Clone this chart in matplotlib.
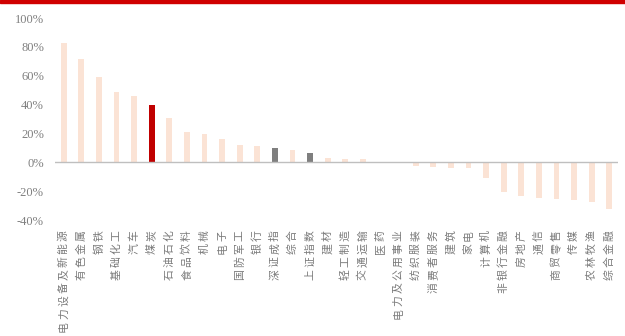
import matplotlib.pyplot as plt
from matplotlib.patches import Rectangle
import matplotlib.transforms as mtransforms

# 行业涨跌幅（%）
industries = [
    "电力设备及新能源", "有色金属", "钢铁", "基础化工", "汽车", "煤炭",
    "石油石化", "食品饮料", "机械", "电子", "国防军工", "银行",
    "深证成指", "综合", "上证指数", "建材", "轻工制造", "交通运输",
    "医药", "电力及公用事业", "纺织服装", "消费者服务", "建筑", "家电",
    "计算机", "非银行金融", "房地产", "通信", "商贸零售", "传媒",
    "农林牧渔", "综合金融",
]
returns = [
    82.6, 71.5, 59.4, 49.0, 46.3, 39.8,
    31.0, 21.0, 19.9, 16.2, 12.2, 11.5,
    10.1, 8.3, 6.5, 2.8, 2.3, 2.0,
    0.2, -0.3, -2.3, -3.0, -3.7, -4.2,
    -11.0, -20.6, -23.0, -24.8, -25.2, -26.2,
    -27.8, -32.2,
]
highlight = "煤炭"
indices = ["深证成指", "上证指数"]

yticks = [-40, -20, 0, 20, 40, 60, 80, 100]

plt.rcParams['font.family'] = ['Noto Sans CJK SC', 'DejaVu Sans']

fig = plt.figure(figsize=(6.25, 3.36), dpi=100)
ax = fig.add_axes([0.088, 0.345, 0.901, 0.601])

colors = []
for name in industries:
    if name == highlight:
        colors.append("#C00000")
    elif name in indices:
        colors.append("#7F7F7F")
    else:
        colors.append("#FBE3D5")

x = list(range(len(industries)))
ax.bar(x, returns, width=0.33, color=colors, zorder=2)

ax.axhline(0, color="#BFBFBF", lw=1.0, zorder=3)

ax.set_xlim(-0.5, len(industries) - 0.5)
ax.set_ylim(-40, 100)
ax.set_yticks(yticks)
ax.set_yticklabels([f"{v}%" for v in yticks], family="Liberation Serif",
                   fontsize=9, color="#808080")
ax.tick_params(axis="y", length=0, pad=8)
ax.set_xticks([])

for s in ax.spines.values():
    s.set_visible(False)

# 行业名称逐字旋转90度，从下往上排，字距稍宽
trans = mtransforms.blended_transform_factory(ax.transData, ax.transAxes)
step = 13
for i, name in enumerate(industries):
    for k, ch in enumerate(reversed(name)):
        t = mtransforms.offset_copy(trans, fig=fig, x=0,
                                    y=-(15 + step * k), units="dots")
        ax.text(i, 0, ch, transform=t, rotation=90,
                ha="center", va="center", fontsize=7.8, color="#7a7a7a")

# 顶部红色条
fig.patches.append(Rectangle((0, 0.99), 1, 0.01, transform=fig.transFigure,
                             color="#D00000", zorder=5))

fig.savefig("out.png", dpi=100)
